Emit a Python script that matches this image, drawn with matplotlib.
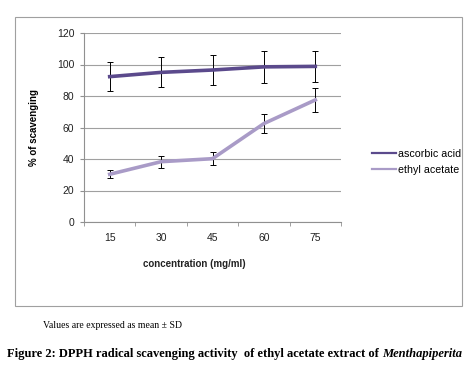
import matplotlib.pyplot as plt
import matplotlib.patches as mpatches
from matplotlib.lines import Line2D

plt.rcParams["font.family"] = ["Liberation Sans", "DejaVu Sans"]

# Data
conc = ["15", "30", "45", "60", "75"]
ascorbic = [92.3, 95.0, 96.5, 98.5, 98.8]
ascorbic_sd = [9.2, 9.5, 9.7, 10.0, 9.8]
ethyl = [30.3, 38.3, 40.2, 62.5, 77.5]
ethyl_sd = [2.6, 3.7, 4.0, 6.0, 7.6]

dark = "#5b4a8c"
light = "#a99bc7"

fig = plt.figure(figsize=(4.74, 3.72), dpi=100)

# outer chart frame
fig.patches.append(mpatches.Rectangle((15 / 474, 1 - 306 / 372), 447 / 474, 289 / 372,
                                      transform=fig.transFigure, fill=False,
                                      edgecolor="#a0a0a0", linewidth=0.8))

ax = fig.add_axes([84 / 474, 1 - 222 / 372, 257 / 474, 189 / 372])
x = range(len(conc))

ax.errorbar(x, ascorbic, yerr=ascorbic_sd, color=dark, linewidth=2.6,
            ecolor="black", elinewidth=0.7, capsize=2.5, capthick=0.7, zorder=3)
ax.errorbar(x, ethyl, yerr=ethyl_sd, color=light, linewidth=2.6,
            ecolor="black", elinewidth=0.7, capsize=2.5, capthick=0.7, zorder=3)

ax.set_xlim(-0.5, 4.5)
ax.set_ylim(0, 120)
ax.set_yticks(range(0, 121, 20))
ax.set_xticks(list(x))
ax.set_xticklabels(conc)
ax.set_xticks([i - 0.5 for i in range(6)], minor=True)
ax.tick_params(axis="x", which="major", length=0, pad=8, labelsize=7.5)
ax.tick_params(axis="x", which="minor", length=3, color="#909090")
ax.tick_params(axis="y", length=3, color="#909090", labelsize=7.5, pad=4)
for t in ax.get_xticklabels() + ax.get_yticklabels():
    t.set_color("#222222")

ax.grid(axis="y", color="#a0a0a0", linewidth=0.8)
ax.set_axisbelow(True)
for s in ["top", "right"]:
    ax.spines[s].set_visible(False)
for s in ["left", "bottom"]:
    ax.spines[s].set_color("#909090")
    ax.spines[s].set_linewidth(0.8)

fig.text(194 / 474, 1 - 264 / 372, "concentration (mg/ml)", fontsize=7,
         fontweight="bold", ha="center", va="center", color="#222222")
ax.set_ylabel("% of scavenging", fontsize=7, fontweight="bold", labelpad=13)

handles = [Line2D([], [], color=dark, linewidth=1.6),
           Line2D([], [], color=light, linewidth=1.6)]
fig.legend(handles, ["ascorbic acid", "ethyl acetate"], loc="center left",
           bbox_to_anchor=(372 / 474, 1 - 162 / 372), borderpad=0, borderaxespad=0,
           frameon=False, fontsize=7.7, handlelength=2.2, handletextpad=0.2,
           labelspacing=0.55)

fig.text(43 / 474, 1 - 325 / 372, "Values are expressed as mean \u00b1 SD",
         family="Liberation Serif", fontsize=7, va="center")

# caption: bold part then bold italic species name
cap = fig.text(7 / 474, 1 - 354 / 372,
               "Figure 2: DPPH radical scavenging activity  of ethyl acetate extract of ",
               family="Liberation Serif", fontsize=9, fontweight="bold", va="center")
fig.canvas.draw()
bb = cap.get_window_extent().transformed(fig.transFigure.inverted())
fig.text(bb.x1, 1 - 354 / 372, "Menthapiperita", family="Liberation Serif",
         fontsize=9, fontweight="bold", fontstyle="italic", va="center")

fig.savefig("out.png", dpi=100)
